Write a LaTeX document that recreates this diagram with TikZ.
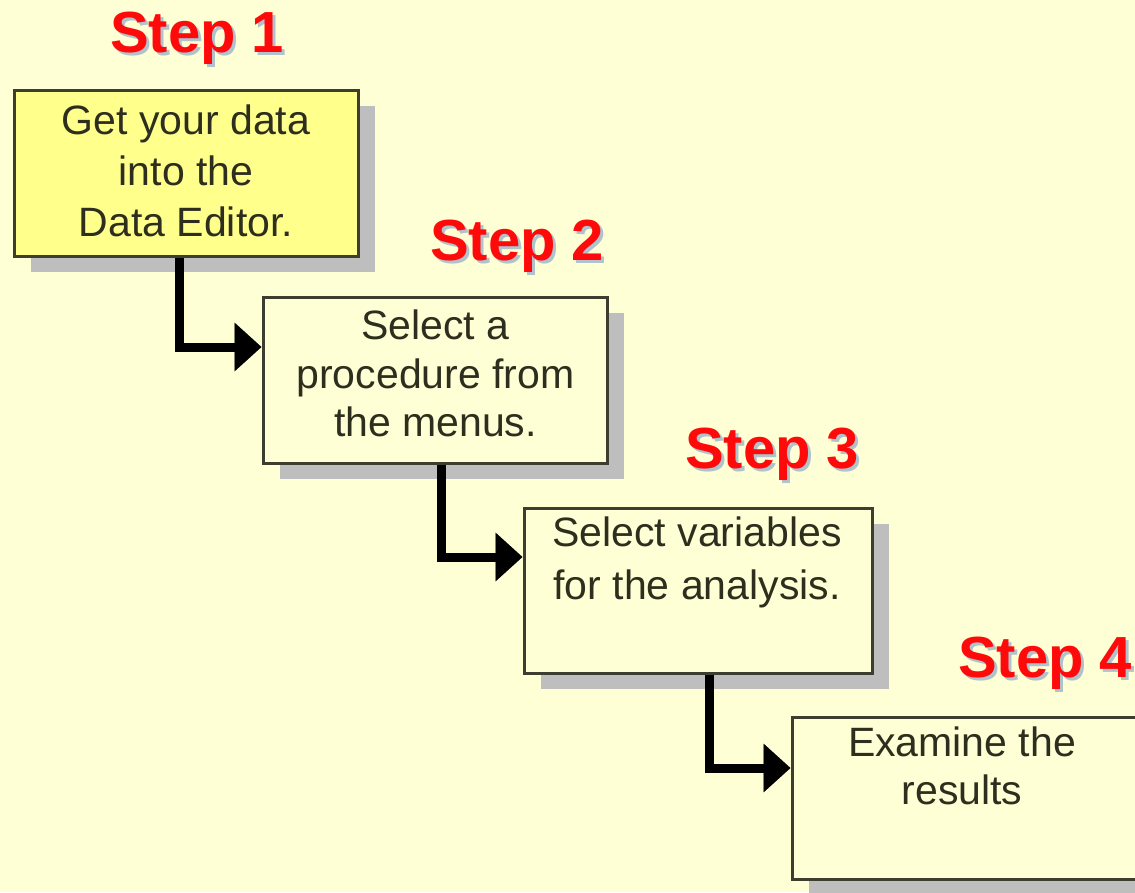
\documentclass[tikz,border=0pt]{standalone}
\usepackage{fontspec}
\setmainfont{Liberation Sans}
\usetikzlibrary{arrows.meta,shadows}
\definecolor{bg}{HTML}{FFFFD5}
\definecolor{boxfill}{HTML}{FFFFD5}
\definecolor{boxone}{HTML}{FFFF8C}
\definecolor{boxline}{HTML}{3E3E30}
\definecolor{shadowgray}{HTML}{BEBEBE}
\definecolor{txtcol}{HTML}{2E2E1E}
\definecolor{stepred}{HTML}{FF0A0A}
\definecolor{stepshadow}{HTML}{B0C2CC}
\definecolor{connshade}{HTML}{707070}
\tikzset{
  stepbox/.style={draw=boxline, line width=3pt, fill=boxfill, inner sep=0pt,
    general shadow={fill=shadowgray, shadow xshift=17pt, shadow yshift=-16pt}},
  txt/.style={font=\fontsize{41}{50}\selectfont, align=center, inner sep=0pt, text=txtcol, anchor=north},
  steplbl/.style={font=\fontsize{58}{60}\selectfont\bfseries, text=stepred, inner sep=0pt, anchor=base west},
  stepsh/.style={font=\fontsize{58}{60}\selectfont\bfseries, text=stepshadow, inner sep=0pt, anchor=base west},
  conn/.style={line width=9pt, draw=black, -{Triangle[length=27pt,width=47pt]}},
  connsh/.style={line width=9pt, draw=connshade, -{Triangle[length=27pt,width=47pt]}}
}
\begin{document}
\begin{tikzpicture}[x=1pt,y=-1pt]
\useasboundingbox (0,0) rectangle (1135,892);
\fill[bg] (0,0) rectangle (1135,892);
\clip (0,0) rectangle (1135,892);

% boxes
\node[stepbox, fill=boxone, minimum width=344pt, minimum height=166pt] (b1) at (186,173) {};
\node[stepbox, minimum width=344pt, minimum height=166pt] (b2) at (435,380) {};
\node[stepbox, minimum width=348pt, minimum height=165pt] (b3) at (698,590.5) {};
\node[stepbox, minimum width=350pt, minimum height=162pt] (b4) at (967,798) {};

% connector bend points
\coordinate (k1) at (179,347);
\coordinate (k2) at (441,557);
\coordinate (k3) at (709,768);

% connector shading
\begin{scope}[xshift=2.5pt, yshift=-2.5pt]
\draw[connsh] (b1.south -| k1) |- (b2.west |- k1);
\draw[connsh] (b2.south -| k2) |- (b3.west |- k2);
\draw[connsh] (b3.south -| k3) |- (b4.west |- k3);
\end{scope}
% connectors
\draw[conn] (b1.south -| k1) |- (b2.west |- k1);
\draw[conn] (b2.south -| k2) |- (b3.west |- k2);
\draw[conn] (b3.south -| k3) |- (b4.west |- k3);

% box texts
\node[txt, font=\fontsize{41}{51}\selectfont] (t1) at (186,105) {Get your data\\into the\\Data Editor.};
\node[txt, font=\fontsize{41}{48.5}\selectfont] (t2) at (435.5,310) {Select a\\procedure from\\the menus.};
\node[txt, font=\fontsize{41}{53}\selectfont] (t3) at (697,517) {Select variables\\for the analysis.};
\node[txt, font=\fontsize{41}{48}\selectfont] (t4) at (962,727) {Examine the\\results};

% step labels
\node[stepsh] (s1s) at (113,55) {Step 1};
\node[steplbl] (s1) at (110,52) {Step 1};
\node[stepsh] (s2s) at (433,263) {Step 2};
\node[steplbl] (s2) at (430,260) {Step 2};
\node[stepsh] (s3s) at (688,471) {Step 3};
\node[steplbl] (s3) at (685,468) {Step 3};
\node[stepsh] (s4s) at (961,680) {Step 4};
\node[steplbl] (s4) at (958,677) {Step 4};
\end{tikzpicture}
\end{document}
